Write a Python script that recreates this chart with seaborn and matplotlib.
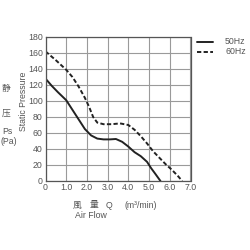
import matplotlib
matplotlib.use("Agg")
import matplotlib.pyplot as plt
import seaborn as sns
import pandas as pd

flow_50 = [0, 0.3, 0.6, 1.0, 1.3, 1.6, 1.9, 2.2, 2.5, 2.8, 3.1, 3.4, 3.7, 4.0, 4.3, 4.6, 4.9, 5.1, 5.3, 5.55]
pres_50 = [128, 119, 111, 101, 89, 77, 65, 57, 53, 52, 52, 52.5, 49, 43, 36, 31, 24, 16, 9, 0]
flow_60 = [0, 0.5, 1.0, 1.3, 1.6, 1.9, 2.1, 2.3, 2.5, 2.8, 3.2, 3.6, 4.0, 4.3, 4.6, 4.9, 5.2, 5.5, 5.8, 6.1, 6.4, 6.6]
pres_60 = [162, 151, 139, 130, 118, 104, 93, 80, 73, 71, 71, 72, 70, 64, 56, 47, 37, 29, 21, 14, 6, 0]
x_ticks = [0, 1.0, 2.0, 3.0, 4.0, 5.0, 6.0, 7.0]
x_labels = ["0", "1.0", "2.0", "3.0", "4.0", "5.0", "6.0", "7.0"]
y_ticks = [0, 20, 40, 60, 80, 100, 120, 140, 160, 180]
series = ["50Hz", "60Hz"]

sns.set_style("white")
plt.rcParams['font.family'] = ['Liberation Sans', 'Noto Sans CJK SC', 'DejaVu Sans']

df = pd.concat([
    pd.DataFrame({"flow": flow_50, "pres": pres_50, "s": series[0]}),
    pd.DataFrame({"flow": flow_60, "pres": pres_60, "s": series[1]}),
])

fs = 6.3
tc = "#555555"
fig = plt.figure(figsize=(2.5, 2.5), dpi=100)
ax = fig.add_axes([0.182, 0.276, 0.58, 0.576])
sns.lineplot(data=df, x="flow", y="pres", hue="s", style="s",
             palette={"50Hz": "#222222", "60Hz": "#222222"},
             dashes={"50Hz": "", "60Hz": (2.2, 1.2)}, sort=False,
             linewidth=1.4, ax=ax, legend=False)
ax.set_xlim(0, 7)
ax.set_ylim(0, 180)
ax.set_xticks(x_ticks)
ax.set_xticklabels(x_labels)
ax.set_yticks(y_ticks)
ax.grid(True, color="#9a9a9a", linewidth=0.8)
ax.tick_params(length=0, labelsize=fs, labelcolor=tc)
ax.tick_params(axis="y", pad=2)
ax.tick_params(axis="x", pad=1.5)
for sp in ax.spines.values():
    sp.set_color("#555555")
    sp.set_linewidth(0.9)
ax.set_xlabel("")
ax.set_ylabel("")

fig.text(23 / 250, 1 - 101 / 250, "Static Pressure", rotation=90, ha="center", va="center", fontsize=fs, color=tc)
for t, xx, yy in [("静", 6.5, 88), ("压", 6.5, 113), ("Ps", 7, 131), ("(Pa)", 8.5, 142)]:
    fig.text(xx / 250, 1 - yy / 250, t, ha="center", va="center", fontsize=fs, color=tc)
fig.text(77 / 250, 1 - 205 / 250, "風", ha="center", va="center", fontsize=fs, color=tc)
fig.text(94 / 250, 1 - 205 / 250, "量", ha="center", va="center", fontsize=fs, color=tc)
fig.text(109 / 250, 1 - 205 / 250, "Q", ha="center", va="center", fontsize=fs, color=tc)
fig.text(141 / 250, 1 - 205 / 250, "(m³/min)", ha="center", va="center", fontsize=fs, color=tc)
fig.text(75 / 250, 1 - 215 / 250, "Air Flow", ha="left", va="center", fontsize=fs, color=tc)

# legend
fig.lines.append(plt.Line2D([197 / 250, 213 / 250], [1 - 42 / 250] * 2, transform=fig.transFigure,
                            color="#222222", linewidth=1.4))
fig.lines.append(plt.Line2D([197 / 250, 213 / 250], [1 - 52 / 250] * 2, transform=fig.transFigure,
                            color="#222222", linewidth=1.4, dashes=(2.2, 1.2)))
fig.text(225 / 250, 1 - 42 / 250, series[0], ha="left", va="center", fontsize=fs, color=tc)
fig.text(225 / 250, 1 - 52 / 250, series[1], ha="left", va="center", fontsize=fs, color=tc)

fig.savefig("out.png", dpi=100)
